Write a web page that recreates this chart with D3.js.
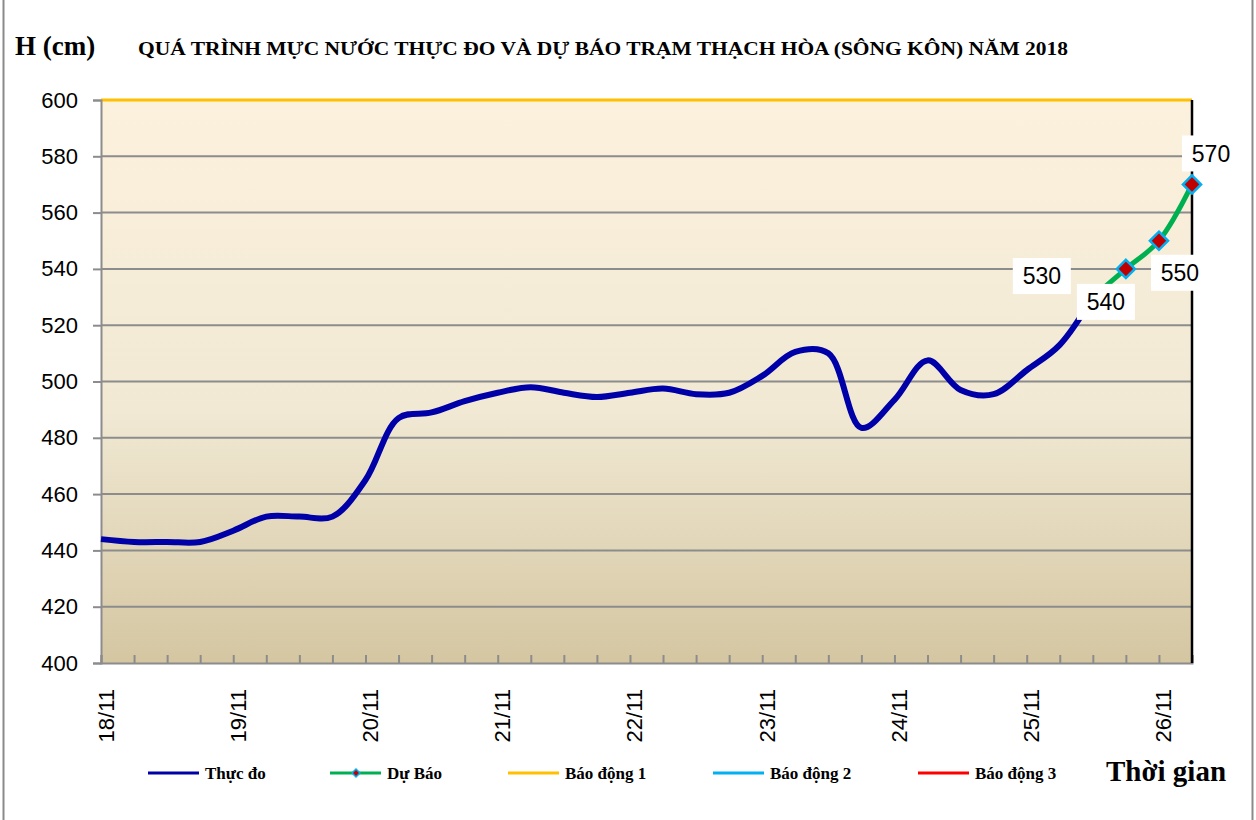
<!DOCTYPE html>
<html>
<head>
<meta charset="utf-8">
<script src="https://cdn.jsdelivr.net/npm/d3@7"></script>
<style>
  body { margin: 0; background: #fff; }
  svg { display: block; }
</style>
</head>
<body>
<div id="chart"></div>
<script>
// ---- data (6-hourly steps starting 18/11 00h) ----
var days = ["18/11", "19/11", "20/11", "21/11", "22/11", "23/11", "24/11", "25/11", "26/11"];
var observed = [444, 443, 443, 443, 447, 452, 452, 452, 465, 487, 489, 493, 496, 498, 496, 494.5,
                496, 497.5, 495.5, 496, 502, 510.5, 510, 483.5, 493.5, 507.5, 497, 495.5, 504, 513, 530];
var forecast = [530, 540, 550, 570];
var forecastStart = 30;
var yTicks = [400, 420, 440, 460, 480, 500, 520, 540, 560, 580, 600];
var alarm1 = 600;
var legendNames = ["Thực đo", "Dự Báo", "Báo động 1", "Báo động 2", "Báo động 3"];

var width = 1256, height = 820;
var plotL = 101, plotR = 1192, plotT = 100, plotB = 663;
var steps = 33;

var svg = d3.select("#chart").append("svg")
    .attr("width", width)
    .attr("height", height);

// frame
svg.append("line").attr("x1", 3.5).attr("x2", 3.5).attr("y1", 0).attr("y2", height)
    .style("stroke", "#8a8a8a").style("stroke-width", 2);
svg.append("line").attr("x1", 1252.5).attr("x2", 1252.5).attr("y1", 0).attr("y2", height)
    .style("stroke", "#8a8a8a").style("stroke-width", 2);

var x = d3.scaleLinear().domain([0, steps]).range([plotL, plotR]);
var y = d3.scaleLinear().domain([400, 600]).range([plotB, plotT]);

// background gradient
var grad = svg.append("defs").append("linearGradient")
    .attr("id", "bg").attr("x1", 0).attr("y1", 0).attr("x2", 0).attr("y2", 1);
grad.append("stop").attr("offset", "0%").attr("stop-color", "#fcf1dc");
grad.append("stop").attr("offset", "55%").attr("stop-color", "#f1e9d4");
grad.append("stop").attr("offset", "100%").attr("stop-color", "#d4c6a1");

svg.append("rect")
    .attr("x", plotL).attr("y", plotT)
    .attr("width", plotR - plotL).attr("height", plotB - plotT)
    .style("fill", "url(#bg)");

// gridlines
svg.append("g").selectAll("line")
    .data(yTicks.filter(function(d) { return d > 400 && d < 600; }))
    .enter().append("line")
    .attr("x1", plotL).attr("x2", plotR)
    .attr("y1", function(d) { return y(d); })
    .attr("y2", function(d) { return y(d); })
    .style("stroke", "#8c8c8c").style("stroke-width", 2);

// alarm 1 line
svg.append("line")
    .attr("x1", plotL).attr("x2", plotR)
    .attr("y1", y(alarm1)).attr("y2", y(alarm1))
    .style("stroke", "#ffc000").style("stroke-width", 3);

// y axis
var yAxis = d3.axisLeft(y).tickValues(yTicks).tickSize(8).tickPadding(15);
var gy = svg.append("g")
    .attr("transform", "translate(" + plotL + ",0)")
    .call(yAxis);
gy.select(".domain").style("stroke", "#8c8c8c").style("stroke-width", 2);
gy.selectAll(".tick line").style("stroke", "#8c8c8c").style("stroke-width", 2);
gy.selectAll(".tick text")
    .style("font-family", "'Liberation Sans', Arial, sans-serif")
    .style("font-size", "22px")
    .style("fill", "#000");

// x axis (6h ticks pointing inward)
var xAxis = d3.axisTop(x).tickValues(d3.range(0, steps + 1)).tickSize(8).tickFormat("");
var gx = svg.append("g")
    .attr("transform", "translate(0," + plotB + ")")
    .call(xAxis);
gx.select(".domain").style("stroke", "#8c8c8c").style("stroke-width", 2);
gx.selectAll(".tick line").style("stroke", "#8c8c8c").style("stroke-width", 2);

// day labels
svg.append("g").selectAll("text")
    .data(days)
    .enter().append("text")
    .text(function(d) { return d; })
    .attr("text-anchor", "end")
    .attr("dominant-baseline", "central")
    .attr("transform", function(d, i) {
        return "translate(" + (x(i * 4) + 5) + "," + 689 + ") rotate(-90)";
    })
    .style("font-family", "'Liberation Sans', Arial, sans-serif")
    .style("font-size", "22px")
    .style("fill", "#000");

// right black edge
svg.append("line")
    .attr("x1", plotR).attr("x2", plotR).attr("y1", plotT).attr("y2", plotB)
    .style("stroke", "#000").style("stroke-width", 2.5);

var line = d3.line()
    .x(function(d) { return x(d.i); })
    .y(function(d) { return y(d.v); })
    .curve(d3.curveCatmullRom);

var obsPts = observed.map(function(v, i) { return {i: i, v: v}; });
var fcPts = forecast.map(function(v, i) { return {i: forecastStart + i, v: v}; });

svg.append("path")
    .datum(obsPts)
    .attr("d", line)
    .style("fill", "none")
    .style("stroke", "#0000a8")
    .style("stroke-width", 6)
    .style("stroke-linejoin", "round");

svg.append("path")
    .datum(fcPts)
    .attr("d", line)
    .style("fill", "none")
    .style("stroke", "#00b050")
    .style("stroke-width", 5)
    .style("stroke-linejoin", "round");

var diamond = d3.symbol().type(d3.symbolDiamond2).size(210);

svg.append("g").selectAll("path")
    .data(fcPts)
    .enter().append("path")
    .attr("d", diamond)
    .attr("transform", function(d) { return "translate(" + x(d.i) + "," + y(d.v) + ")"; })
    .style("fill", "#c00000")
    .style("stroke", "#00b0f0")
    .style("stroke-width", 2.5);

// data labels with white boxes
var labelOffsets = [[-51, -21], [-20, 33], [21, 32], [19, -31]];
var lbl = svg.append("g").selectAll("g")
    .data(fcPts)
    .enter().append("g")
    .attr("transform", function(d, i) {
        return "translate(" + (x(d.i) + labelOffsets[i][0]) + "," + (y(d.v) + labelOffsets[i][1]) + ")";
    });
lbl.append("rect")
    .attr("x", -29).attr("y", -18).attr("width", 58).attr("height", 36)
    .style("fill", "#fff");
lbl.append("text")
    .text(function(d) { return d.v; })
    .attr("text-anchor", "middle")
    .attr("dy", "0.36em")
    .style("font-family", "'Liberation Sans', Arial, sans-serif")
    .style("font-size", "23px")
    .style("fill", "#000");

// titles
svg.append("text")
    .text("H (cm)")
    .attr("x", 15).attr("y", 55)
    .style("font-family", "'Liberation Serif', 'Times New Roman', serif")
    .style("font-weight", "bold")
    .style("font-size", "27px");

svg.append("text")
    .text("QUÁ TRÌNH MỰC NƯỚC THỰC ĐO VÀ DỰ BÁO TRẠM THẠCH HÒA (SÔNG KÔN) NĂM 2018")
    .attr("x", 138).attr("y", 55)
    .attr("textLength", 930)
    .attr("lengthAdjust", "spacingAndGlyphs")
    .style("font-family", "'Liberation Serif', 'Times New Roman', serif")
    .style("font-weight", "bold")
    .style("font-size", "18px");

svg.append("text")
    .text("Thời gian")
    .attr("x", 1106).attr("y", 781)
    .style("font-family", "'Liberation Serif', 'Times New Roman', serif")
    .style("font-weight", "bold")
    .style("font-size", "29px");

// legend
var legendX = [148, 330, 508, 713, 918];
var legendColors = ["#0000a8", "#00b050", "#ffc000", "#00b0f0", "#ff0000"];
var leg = svg.append("g").selectAll("g")
    .data(legendNames)
    .enter().append("g")
    .attr("transform", function(d, i) { return "translate(" + legendX[i] + ",773)"; });
leg.append("line")
    .attr("x1", 0).attr("x2", 51).attr("y1", 0).attr("y2", 0)
    .style("stroke", function(d, i) { return legendColors[i]; })
    .style("stroke-width", 3);
leg.filter(function(d, i) { return i === 1; })
    .append("path")
    .attr("d", d3.symbol().type(d3.symbolDiamond2).size(40))
    .attr("transform", "translate(26,0)")
    .style("fill", "#c00000")
    .style("stroke", "#00b0f0")
    .style("stroke-width", 1.5);
leg.append("text")
    .text(function(d) { return d; })
    .attr("x", 57).attr("dy", "0.35em")
    .style("font-family", "'Liberation Serif', 'Times New Roman', serif")
    .style("font-weight", "bold")
    .style("font-size", "17px");
</script>
</body>
</html>
